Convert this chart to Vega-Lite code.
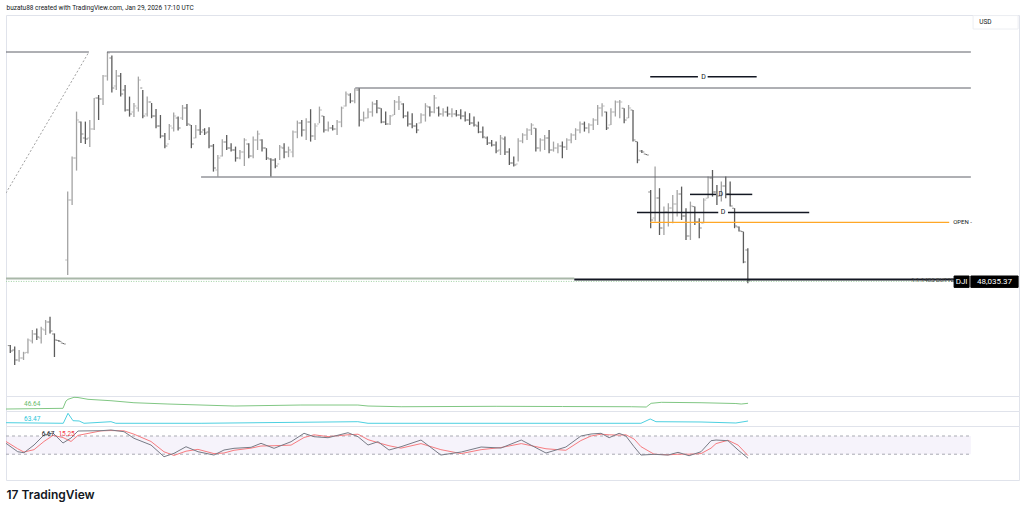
{
  "$schema": "https://vega.github.io/schema/vega-lite/v6.json",
  "background": "white",
  "padding": {"left": 5, "right": 6, "top": 3, "bottom": 5},
  "spacing": 0,
  "bounds": "flush",
  "config": {"view": {"stroke": "#e0e3eb"}, "font": "Roboto"},
  "datasets": {
    "bars": [
      {"i":0,"o":47712,"h":47715,"l":47675,"c":47685},{"i":1,"o":47690,"h":47707,"l":47615,"c":47640},{"i":2,"o":47640,"h":47690,"l":47631,"c":47650},{"i":3,"o":47650,"h":47681,"l":47640,"c":47675},{"i":4,"o":47678,"h":47748,"l":47673,"c":47740},{"i":5,"o":47735,"h":47790,"l":47723,"c":47770},{"i":6,"o":47770,"h":47798,"l":47740,"c":47755},{"i":7,"o":47750,"h":47806,"l":47723,"c":47795},{"i":8,"o":47790,"h":47840,"l":47765,"c":47830},{"i":9,"o":47830,"h":47856,"l":47773,"c":47785},{"i":10,"o":47770,"h":47773,"l":47655,"c":47740},{"i":11,"o":47738,"h":47740,"l":47731,"c":47733},{"i":12,"o":47725,"h":47725,"l":47720,"c":47720},
      {"i":13,"o":48140,"h":48482,"l":48065,"c":48440},{"i":14,"o":48440,"h":48657,"l":48415,"c":48650},{"i":15,"o":48650,"h":48882,"l":48587,"c":48840},{"i":16,"o":48830,"h":48832,"l":48725,"c":48770},{"i":17,"o":48750,"h":48832,"l":48720,"c":48745},{"i":18,"o":48750,"h":48840,"l":48705,"c":48795},{"i":19,"o":48795,"h":48950,"l":48790,"c":48950},{"i":20,"o":48950,"h":48965,"l":48840,"c":48945},{"i":21,"o":48945,"h":49065,"l":48915,"c":49060},{"i":22,"o":49060,"h":49180,"l":49037,"c":49175},
      {"i":23,"o":49150,"h":49162,"l":48977,"c":49000},{"i":24,"o":49010,"h":49090,"l":48990,"c":49060},{"i":25,"o":49060,"h":49075,"l":48957,"c":48970},{"i":26,"o":48990,"h":49015,"l":48882,"c":48890},{"i":27,"o":48890,"h":48957,"l":48857,"c":48870},{"i":28,"o":48880,"h":48925,"l":48855,"c":48910},{"i":29,"o":48900,"h":49057,"l":48882,"c":49040},{"i":30,"o":49000,"h":48990,"l":48849,"c":48860},{"i":31,"o":48870,"h":48957,"l":48857,"c":48930},{"i":32,"o":48930,"h":48925,"l":48849,"c":48860},
      {"i":33,"o":48860,"h":48895,"l":48799,"c":48810},{"i":34,"o":48810,"h":48865,"l":48749,"c":48760},{"i":35,"o":48760,"h":48775,"l":48699,"c":48710},{"i":36,"o":48720,"h":48820,"l":48740,"c":48810},{"i":37,"o":48800,"h":48877,"l":48782,"c":48860},{"i":38,"o":48850,"h":48857,"l":48787,"c":48800},{"i":39,"o":48850,"h":48915,"l":48840,"c":48900},{"i":40,"o":48900,"h":48920,"l":48810,"c":48820},{"i":41,"o":48815,"h":48815,"l":48699,"c":48720},{"i":42,"o":48750,"h":48815,"l":48749,"c":48790},
      {"i":43,"o":48790,"h":48894,"l":48765,"c":48780},{"i":44,"o":48790,"h":48799,"l":48765,"c":48775},{"i":45,"o":48780,"h":48804,"l":48699,"c":48710},{"i":46,"o":48710,"h":48720,"l":48582,"c":48600},{"i":47,"o":48590,"h":48665,"l":48557,"c":48650},{"i":48,"o":48660,"h":48744,"l":48657,"c":48730},{"i":49,"o":48730,"h":48765,"l":48690,"c":48700},{"i":50,"o":48700,"h":48724,"l":48682,"c":48690},{"i":51,"o":48690,"h":48707,"l":48632,"c":48650},{"i":52,"o":48650,"h":48690,"l":48644,"c":48680},
      {"i":53,"o":48680,"h":48749,"l":48610,"c":48740},{"i":54,"o":48720,"h":48724,"l":48649,"c":48660},{"i":55,"o":48660,"h":48757,"l":48649,"c":48740},{"i":56,"o":48740,"h":48787,"l":48690,"c":48770},{"i":57,"o":48740,"h":48744,"l":48682,"c":48700},{"i":58,"o":48700,"h":48699,"l":48640,"c":48650},{"i":59,"o":48645,"h":48649,"l":48557,"c":48640},{"i":60,"o":48640,"h":48649,"l":48599,"c":48610},{"i":61,"o":48620,"h":48715,"l":48640,"c":48705},{"i":62,"o":48700,"h":48724,"l":48649,"c":48680},
      {"i":63,"o":48680,"h":48707,"l":48654,"c":48690},{"i":64,"o":48680,"h":48787,"l":48654,"c":48780},{"i":65,"o":48780,"h":48837,"l":48749,"c":48825},{"i":66,"o":48825,"h":48840,"l":48757,"c":48790},{"i":67,"o":48790,"h":48849,"l":48740,"c":48830},{"i":68,"o":48830,"h":48894,"l":48732,"c":48760},{"i":69,"o":48760,"h":48824,"l":48740,"c":48810},{"i":70,"o":48820,"h":48907,"l":48824,"c":48890},{"i":71,"o":48860,"h":48860,"l":48777,"c":48790},{"i":72,"o":48790,"h":48832,"l":48782,"c":48800},
      {"i":73,"o":48800,"h":48815,"l":48787,"c":48795},{"i":74,"o":48795,"h":48840,"l":48765,"c":48830},{"i":75,"o":48830,"h":48907,"l":48804,"c":48900},{"i":76,"o":48910,"h":48982,"l":48907,"c":48970},{"i":77,"o":48965,"h":48974,"l":48924,"c":48935},{"i":78,"o":48935,"h":48999,"l":48924,"c":48990},{"i":79,"o":48990,"h":48999,"l":48807,"c":48840},{"i":80,"o":48840,"h":48882,"l":48832,"c":48850},{"i":81,"o":48850,"h":48899,"l":48849,"c":48880},{"i":82,"o":48880,"h":48932,"l":48857,"c":48920},
      {"i":83,"o":48920,"h":48940,"l":48874,"c":48900},{"i":84,"o":48899,"h":48899,"l":48824,"c":48830},{"i":85,"o":48830,"h":48882,"l":48815,"c":48820},{"i":86,"o":48820,"h":48865,"l":48815,"c":48860},{"i":87,"o":48865,"h":48940,"l":48865,"c":48930},{"i":88,"o":48930,"h":48960,"l":48890,"c":48930},{"i":89,"o":48920,"h":48924,"l":48849,"c":48860},{"i":90,"o":48860,"h":48882,"l":48807,"c":48820},{"i":91,"o":48820,"h":48874,"l":48799,"c":48810},{"i":92,"o":48810,"h":48824,"l":48774,"c":48790},
      {"i":93,"o":48825,"h":48874,"l":48824,"c":48865},{"i":94,"o":48865,"h":48924,"l":48832,"c":48910},{"i":95,"o":48905,"h":48907,"l":48857,"c":48880},{"i":96,"o":48880,"h":48965,"l":48874,"c":48950},{"i":97,"o":48900,"h":48907,"l":48857,"c":48870},{"i":98,"o":48870,"h":48899,"l":48857,"c":48880},{"i":99,"o":48880,"h":48907,"l":48857,"c":48870},{"i":100,"o":48870,"h":48899,"l":48854,"c":48870},{"i":101,"o":48870,"h":48890,"l":48857,"c":48865},{"i":102,"o":48865,"h":48894,"l":48844,"c":48860},
      {"i":103,"o":48860,"h":48882,"l":48832,"c":48840},{"i":104,"o":48840,"h":48874,"l":48815,"c":48825},{"i":105,"o":48825,"h":48857,"l":48807,"c":48815},{"i":106,"o":48810,"h":48832,"l":48774,"c":48780},{"i":107,"o":48780,"h":48807,"l":48749,"c":48755},{"i":108,"o":48750,"h":48757,"l":48715,"c":48725},{"i":109,"o":48725,"h":48740,"l":48707,"c":48715},{"i":110,"o":48715,"h":48732,"l":48674,"c":48685},{"i":111,"o":48690,"h":48765,"l":48665,"c":48750},{"i":112,"o":48745,"h":48757,"l":48665,"c":48680},
      {"i":113,"o":48680,"h":48699,"l":48615,"c":48625},{"i":114,"o":48625,"h":48657,"l":48607,"c":48615},{"i":115,"o":48620,"h":48749,"l":48632,"c":48735},{"i":116,"o":48735,"h":48774,"l":48724,"c":48765},{"i":117,"o":48765,"h":48799,"l":48740,"c":48790},{"i":118,"o":48790,"h":48824,"l":48765,"c":48815},{"i":119,"o":48799,"h":48799,"l":48682,"c":48700},{"i":120,"o":48700,"h":48749,"l":48682,"c":48740},{"i":121,"o":48740,"h":48765,"l":48690,"c":48750},{"i":122,"o":48750,"h":48790,"l":48674,"c":48690},
      {"i":123,"o":48690,"h":48732,"l":48682,"c":48700},{"i":124,"o":48700,"h":48724,"l":48674,"c":48710},{"i":125,"o":48710,"h":48732,"l":48649,"c":48705},{"i":126,"o":48705,"h":48749,"l":48690,"c":48740},{"i":127,"o":48740,"h":48774,"l":48724,"c":48765},{"i":128,"o":48765,"h":48799,"l":48740,"c":48790},{"i":129,"o":48790,"h":48832,"l":48774,"c":48820},{"i":130,"o":48820,"h":48832,"l":48782,"c":48800},{"i":131,"o":48800,"h":48824,"l":48774,"c":48815},{"i":132,"o":48815,"h":48849,"l":48790,"c":48840},
      {"i":133,"o":48840,"h":48915,"l":48815,"c":48900},{"i":134,"o":48900,"h":48924,"l":48857,"c":48910},{"i":135,"o":48880,"h":48882,"l":48790,"c":48800},{"i":136,"o":48815,"h":48899,"l":48815,"c":48880},{"i":137,"o":48880,"h":48937,"l":48857,"c":48930},{"i":138,"o":48930,"h":48940,"l":48849,"c":48930},{"i":139,"o":48899,"h":48899,"l":48824,"c":48840},{"i":140,"o":48850,"h":48915,"l":48849,"c":48900},{"i":141,"o":48890,"h":48890,"l":48732,"c":48740},{"i":142,"o":48732,"h":48732,"l":48624,"c":48640},
      {"i":143,"o":48685,"h":48690,"l":48675,"c":48680},{"i":144,"o":48670,"h":48670,"l":48665,"c":48665},{"i":145,"o":48480,"h":48490,"l":48299,"c":48340},{"i":146,"o":48350,"h":48607,"l":48332,"c":48450},{"i":147,"o":48450,"h":48499,"l":48265,"c":48300},{"i":148,"o":48300,"h":48407,"l":48265,"c":48380},{"i":149,"o":48380,"h":48424,"l":48307,"c":48400},{"i":150,"o":48400,"h":48465,"l":48324,"c":48420},{"i":151,"o":48420,"h":48490,"l":48357,"c":48470},{"i":152,"o":48470,"h":48507,"l":48340,"c":48360},
      {"i":153,"o":48360,"h":48399,"l":48240,"c":48260},{"i":154,"o":48260,"h":48432,"l":48240,"c":48410},{"i":155,"o":48407,"h":48407,"l":48315,"c":48330},{"i":156,"o":48330,"h":48349,"l":48249,"c":48300},{"i":157,"o":48324,"h":48449,"l":48324,"c":48440},{"i":158,"o":48449,"h":48557,"l":48449,"c":48550},{"i":159,"o":48550,"h":48590,"l":48457,"c":48480},{"i":160,"o":48480,"h":48515,"l":48415,"c":48460},{"i":161,"o":48460,"h":48532,"l":48432,"c":48510},{"i":162,"o":48510,"h":48557,"l":48449,"c":48470},
      {"i":163,"o":48470,"h":48532,"l":48407,"c":48410},{"i":164,"o":48399,"h":48399,"l":48299,"c":48310},{"i":165,"o":48305,"h":48307,"l":48282,"c":48285},{"i":166,"o":48282,"h":48282,"l":48124,"c":48130},{"i":167,"o":48190,"h":48199,"l":48024,"c":48035.37}
    ],
    "levels": [
      {"kind":"level","i":-1,"i2":17.8,"p":49180},
      {"kind":"level","i":21.9,"i2":217.5,"p":49180},
      {"kind":"level","i":78.1,"i2":217.5,"p":49000},
      {"kind":"level","i":43.2,"i2":217.5,"p":48555},
      {"kind":"open","i":144.9,"i2":212.6,"p":48328},
      {"kind":"d","i":144.9,"i2":155.7,"p":49056},
      {"kind":"d","i":157.9,"i2":169.0,"p":49056},
      {"kind":"d","i":153.9,"i2":159.8,"p":48468},
      {"kind":"d","i":162.1,"i2":168.0,"p":48468},
      {"kind":"d","i":141.9,"i2":160.3,"p":48378},
      {"kind":"d","i":162.5,"i2":180.9,"p":48378},
      {"kind":"base","i":-1,"i2":127.7,"p":48047},
      {"kind":"fib","i":127.7,"i2":214.2,"p":48043},
      {"kind":"dots","i":-1,"i2":214.2,"p":48033}
    ],
    "diag": [{"i":17.8,"p":49180},{"i":-1,"p":48474}],
    "labels": [
      {"kind":"d","i":157.0,"p":49056,"text":"D"},
      {"kind":"d","i":160.9,"p":48468,"text":"D"},
      {"kind":"d","i":161.4,"p":48378,"text":"D"},
      {"kind":"open","i":213.5,"p":48328,"text":"OPEN -"},
      {"kind":"fib","i":204.0,"p":48040,"text":"1:1.1485 BUTTE"}
    ],
    "boxes": [
      {"kind":"sym","i":213.7,"i2":217.1,"p":48060,"p2":48003},
      {"kind":"price","i":217.5,"i2":228.2,"p":48060,"p2":48003},
      {"kind":"unit","i":218.0,"i2":228.2,"p":49362,"p2":49295}
    ],
    "boxtext": [
      {"kind":"sym","i":215.4,"p":48032,"text":"DJI"},
      {"kind":"price","i":222.85,"p":48032,"text":"48,035.37"},
      {"kind":"unit","i":219.4,"p":49328,"text":"USD"}
    ],
    "green": [
      {"i":-0.97,"v":35.2},{"i":11.93,"v":36.6},{"i":12.61,"v":51.2},{"i":13.07,"v":54.6},{"i":14.42,"v":58.6},{"i":15.33,"v":58.2},{"i":17.6,"v":54.6},{"i":22.8,"v":51.8},{"i":28.0,"v":47.8},{"i":35.7,"v":45.2},{"i":50.7,"v":41.2},{"i":65.8,"v":43.2},{"i":78.7,"v":43.2},{"i":81.0,"v":41.2},{"i":88.5,"v":39.8},{"i":110,"v":40.6},{"i":125,"v":40.2},{"i":140.6,"v":39.8},{"i":144.0,"v":39.2},{"i":145.1,"v":46.6},{"i":147.4,"v":48.6},{"i":156.4,"v":47.8},{"i":164.3,"v":46.2},{"i":165.5,"v":45.2},{"i":167.05,"v":46.64}
    ],
    "cyan": [
      {"i":-0.97,"v":58.4},{"i":12.0,"v":56.6},{"i":13.07,"v":86.6},{"i":14.2,"v":64.4},{"i":15.6,"v":63.5},{"i":16.7,"v":56.6},{"i":22.8,"v":61.4},{"i":23.9,"v":56.6},{"i":43.2,"v":56.6},{"i":78.7,"v":61.4},{"i":81.0,"v":56.6},{"i":142.8,"v":56.6},{"i":144.9,"v":69.5},{"i":146.2,"v":61.4},{"i":156.4,"v":60.5},{"i":164.3,"v":57.5},{"i":167.05,"v":63.47}
    ],
    "stochk": [
      {"i":-0.97,"v":55.9},{"i":1.68,"v":28.2},{"i":3.1,"v":24.9},{"i":5.37,"v":50.3},{"i":7.63,"v":83.3},{"i":9.67,"v":89.9},{"i":11.93,"v":56.9},{"i":13.75,"v":73.4},{"i":15.33,"v":96.5},{"i":20.54,"v":97.5},{"i":22.8,"v":99.8},{"i":25.75,"v":94.2},{"i":28.01,"v":72.4},{"i":31.86,"v":50.3},{"i":34.81,"v":11.7},{"i":37.07,"v":22.9},{"i":39.79,"v":44.7},{"i":42.5,"v":28.2},{"i":46.13,"v":17.3},{"i":48.39,"v":33.8},{"i":50.66,"v":39.4},{"i":54.51,"v":42.7},{"i":56.77,"v":55.9},{"i":59.72,"v":39.4},{"i":63.57,"v":61.2},{"i":66.51,"v":88.9},{"i":68.78,"v":77.7},{"i":71.95,"v":74.4},{"i":76.47,"v":90.9},{"i":78.74,"v":77.7},{"i":81.0,"v":50.3},{"i":83.26,"v":61.2},{"i":85.75,"v":33.8},{"i":88.47,"v":44.7},{"i":93.0,"v":66.8},{"i":97.5,"v":17.3},{"i":102.1,"v":27.2},{"i":106.6,"v":43.7},{"i":111.1,"v":40.4},{"i":115.7,"v":66.8},{"i":121.3,"v":23.9},{"i":125.8,"v":43.7},{"i":129.2,"v":80},{"i":131.5,"v":86.6},{"i":133.76,"v":88.9},{"i":135.6,"v":74.4},{"i":137.85,"v":88.9},{"i":139.4,"v":80},{"i":141.24,"v":44.7},{"i":142.8,"v":17.3},{"i":145.77,"v":19.6},{"i":148.94,"v":17.3},{"i":151.2,"v":26.2},{"i":153.7,"v":15.0},{"i":156.4,"v":28.2},{"i":158.67,"v":64.5},{"i":159.8,"v":66.8},{"i":162.5,"v":64.5},{"i":164.8,"v":33.8},{"i":167.05,"v":6.67}
    ],
    "stochd": [
      {"i":-0.97,"v":62},{"i":1.68,"v":38},{"i":3.1,"v":27},{"i":5.37,"v":35},{"i":7.63,"v":62},{"i":9.67,"v":82},{"i":11.93,"v":75},{"i":13.75,"v":62},{"i":15.33,"v":82},{"i":20.54,"v":97},{"i":22.8,"v":98},{"i":25.75,"v":97},{"i":28.01,"v":86},{"i":31.86,"v":62},{"i":34.81,"v":28},{"i":37.07,"v":16},{"i":39.79,"v":30},{"i":42.5,"v":36},{"i":46.13,"v":22},{"i":48.39,"v":24},{"i":50.66,"v":33},{"i":54.51,"v":40},{"i":56.77,"v":47},{"i":59.72,"v":48},{"i":63.57,"v":50},{"i":66.51,"v":75},{"i":68.78,"v":84},{"i":71.95,"v":78},{"i":76.47,"v":84},{"i":78.74,"v":86},{"i":81.0,"v":68},{"i":83.26,"v":58},{"i":85.75,"v":48},{"i":88.47,"v":40},{"i":93.0,"v":55},{"i":97.5,"v":35},{"i":102.1,"v":22},{"i":106.6,"v":35},{"i":111.1,"v":42},{"i":115.7,"v":55},{"i":121.3,"v":38},{"i":125.8,"v":33},{"i":129.2,"v":65},{"i":131.5,"v":80},{"i":133.76,"v":86},{"i":135.6,"v":84},{"i":137.85,"v":83},{"i":139.4,"v":84},{"i":141.24,"v":70},{"i":142.8,"v":45},{"i":145.77,"v":20},{"i":148.94,"v":18},{"i":151.2,"v":20},{"i":153.7,"v":20},{"i":156.4,"v":22},{"i":158.67,"v":40},{"i":159.8,"v":55},{"i":162.5,"v":66},{"i":164.8,"v":50},{"i":167.05,"v":15.25}
    ],
    "band": [{"i":-0.97,"i2":217.5,"v":20,"v2":80}],
    "bandlines": [{"i":-0.97,"i2":217.5,"v":80},{"i":-0.97,"i2":217.5,"v":20}],
    "paneLabels": [
      {"pane":"green","i":3.1,"v":45.2,"text":"46.64"},
      {"pane":"cyan","i":3.1,"v":68.5,"text":"63.47"},
      {"pane":"k","i":7.1,"v":87.6,"text":"6.67"},
      {"pane":"d","i":10.9,"v":87.6,"text":"15.25"}
    ]
  },
  "vconcat": [
    {
      "width": 1013,
      "height": 381,
      "encoding": {
        "x": {"field": "i", "type": "quantitative",
              "scale": {"domain": [-0.97, 228.4], "nice": false, "zero": false},
              "axis": {"orient": "top", "title": "buzatu88 created with TradingView.com, Jan 29, 2026 17:10 UTC",
                       "labels": false, "ticks": false, "domain": false, "grid": false,
                       "titleFontSize": 6.5, "titleFontWeight": "normal", "titleColor": "#131722",
                       "titleAnchor": "start", "titlePadding": 5, "titleFont": "Roboto"}}
      },
      "layer": [
        {
          "data": {"name": "bars"},
          "mark": {"type": "rule", "strokeWidth": 1.3, "clip": true},
          "encoding": {
            "y": {"field": "l", "type": "quantitative", "scale": {"domain": [47460, 49365], "nice": false, "zero": false}, "axis": null},
            "y2": {"field": "h"},
            "color": {"condition": {"test": "datum.c >= datum.o", "value": "#a3a3a3"}, "value": "#5c5c5c"}
          }
        },
        {
          "data": {"name": "bars"},
          "mark": {"type": "tick", "orient": "horizontal", "size": 2, "thickness": 1, "xOffset": -1.5, "clip": true},
          "encoding": {
            "y": {"field": "o", "type": "quantitative", "axis": null},
            "color": {"condition": {"test": "datum.c >= datum.o", "value": "#a3a3a3"}, "value": "#5c5c5c"}
          }
        },
        {
          "data": {"name": "bars"},
          "mark": {"type": "tick", "orient": "horizontal", "size": 2, "thickness": 1, "xOffset": 1.5, "clip": true},
          "encoding": {
            "y": {"field": "c", "type": "quantitative", "axis": null},
            "color": {"condition": {"test": "datum.c >= datum.o", "value": "#a3a3a3"}, "value": "#5c5c5c"}
          }
        },
        {
          "data": {"name": "levels"},
          "transform": [{"filter": "datum.kind === 'level'"}],
          "mark": {"type": "rule", "strokeWidth": 1, "color": "#5f6169", "clip": true},
          "encoding": {
            "x2": {"field": "i2"},
            "y": {"field": "p", "type": "quantitative", "axis": null}
          }
        },
        {
          "data": {"name": "levels"},
          "transform": [{"filter": "datum.kind === 'open'"}],
          "mark": {"type": "rule", "strokeWidth": 1.2, "color": "#ffa726", "clip": true},
          "encoding": {
            "x2": {"field": "i2"},
            "y": {"field": "p", "type": "quantitative", "axis": null}
          }
        },
        {
          "data": {"name": "levels"},
          "transform": [{"filter": "datum.kind === 'd'"}],
          "mark": {"type": "rule", "strokeWidth": 1.5, "color": "#131722", "clip": true},
          "encoding": {
            "x2": {"field": "i2"},
            "y": {"field": "p", "type": "quantitative", "axis": null}
          }
        },
        {
          "data": {"name": "levels"},
          "transform": [{"filter": "datum.kind === 'base'"}],
          "mark": {"type": "rule", "strokeWidth": 2, "color": "#a9b8a9", "clip": true},
          "encoding": {
            "x2": {"field": "i2"},
            "y": {"field": "p", "type": "quantitative", "axis": null}
          }
        },
        {
          "data": {"name": "levels"},
          "transform": [{"filter": "datum.kind === 'dots'"}],
          "mark": {"type": "rule", "strokeWidth": 1, "color": "#9ccf9f", "strokeDash": [1, 1.5], "clip": true},
          "encoding": {
            "x2": {"field": "i2"},
            "y": {"field": "p", "type": "quantitative", "axis": null}
          }
        },
        {
          "data": {"name": "levels"},
          "transform": [{"filter": "datum.kind === 'fib'"}],
          "mark": {"type": "rule", "strokeWidth": 2, "color": "#131722", "clip": true},
          "encoding": {
            "x2": {"field": "i2"},
            "y": {"field": "p", "type": "quantitative", "axis": null}
          }
        },
        {
          "data": {"name": "diag"},
          "mark": {"type": "line", "strokeWidth": 1, "color": "#a0a0a0", "strokeDash": [2, 2], "clip": true},
          "encoding": {
            "y": {"field": "p", "type": "quantitative", "axis": null}
          }
        },
        {
          "data": {"name": "labels"},
          "transform": [{"filter": "datum.kind === 'd'"}],
          "mark": {"type": "text", "fontSize": 7, "color": "#131722", "align": "center", "baseline": "middle"},
          "encoding": {
            "y": {"field": "p", "type": "quantitative", "axis": null},
            "text": {"field": "text"}
          }
        },
        {
          "data": {"name": "labels"},
          "transform": [{"filter": "datum.kind === 'open'"}],
          "mark": {"type": "text", "fontSize": 6, "color": "#131722", "align": "left", "baseline": "middle"},
          "encoding": {
            "y": {"field": "p", "type": "quantitative", "axis": null},
            "text": {"field": "text"}
          }
        },
        {
          "data": {"name": "labels"},
          "transform": [{"filter": "datum.kind === 'fib'"}],
          "mark": {"type": "text", "fontSize": 6, "color": "#4a4a4a", "align": "left", "baseline": "middle"},
          "encoding": {
            "y": {"field": "p", "type": "quantitative", "axis": null},
            "text": {"field": "text"}
          }
        },
        {
          "data": {"name": "boxes"},
          "mark": {"type": "rect", "strokeWidth": 1},
          "encoding": {
            "x2": {"field": "i2"},
            "y": {"field": "p", "type": "quantitative", "axis": null},
            "y2": {"field": "p2"},
            "fill": {"field": "kind", "type": "nominal", "scale": {"domain": ["sym", "price", "unit"], "range": ["#000000", "#000000", "#ffffff"]}, "legend": null},
            "stroke": {"field": "kind", "type": "nominal", "scale": {"domain": ["sym", "price", "unit"], "range": ["#000000", "#000000", "#eceef2"]}, "legend": null}
          }
        },
        {
          "data": {"name": "boxtext"},
          "transform": [{"filter": "datum.kind !== 'unit'"}],
          "mark": {"type": "text", "fontSize": 8, "color": "#ffffff", "align": "center", "baseline": "middle"},
          "encoding": {
            "y": {"field": "p", "type": "quantitative", "axis": null},
            "text": {"field": "text"}
          }
        },
        {
          "data": {"name": "boxtext"},
          "transform": [{"filter": "datum.kind === 'unit'"}],
          "mark": {"type": "text", "fontSize": 6.5, "color": "#131722", "align": "left", "baseline": "middle"},
          "encoding": {
            "y": {"field": "p", "type": "quantitative", "axis": null},
            "text": {"field": "text"}
          }
        }
      ]
    },
    {
      "width": 1013,
      "height": 15,
      "encoding": {
        "x": {"field": "i", "type": "quantitative", "scale": {"domain": [-0.97, 228.4], "nice": false, "zero": false}, "axis": null}
      },
      "layer": [
        {
          "data": {"name": "green"},
          "mark": {"type": "line", "strokeWidth": 1, "color": "#81c784", "clip": true},
          "encoding": {"y": {"field": "v", "type": "quantitative", "scale": {"domain": [31.24, 61.24], "nice": false, "zero": false}, "axis": null}}
        },
        {
          "data": {"name": "paneLabels"},
          "transform": [{"filter": "datum.pane === 'green'"}],
          "mark": {"type": "text", "fontSize": 6.5, "color": "#66bb6a", "align": "left", "baseline": "middle"},
          "encoding": {"y": {"field": "v", "type": "quantitative", "axis": null}, "text": {"field": "text"}}
        }
      ]
    },
    {
      "width": 1013,
      "height": 15,
      "encoding": {
        "x": {"field": "i", "type": "quantitative", "scale": {"domain": [-0.97, 228.4], "nice": false, "zero": false}, "axis": null}
      },
      "layer": [
        {
          "data": {"name": "cyan"},
          "mark": {"type": "line", "strokeWidth": 1, "color": "#4dd0e1", "clip": true},
          "encoding": {"y": {"field": "v", "type": "quantitative", "scale": {"domain": [48.47, 93.47], "nice": false, "zero": false}, "axis": null}}
        },
        {
          "data": {"name": "paneLabels"},
          "transform": [{"filter": "datum.pane === 'cyan'"}],
          "mark": {"type": "text", "fontSize": 6.5, "color": "#26c6da", "align": "left", "baseline": "middle"},
          "encoding": {"y": {"field": "v", "type": "quantitative", "axis": null}, "text": {"field": "text"}}
        }
      ]
    },
    {
      "width": 1013,
      "height": 54,
      "encoding": {
        "x": {"field": "i", "type": "quantitative", "scale": {"domain": [-0.97, 228.4], "nice": false, "zero": false},
              "axis": {"orient": "bottom", "title": "17 TradingView", "labels": false, "ticks": false, "domain": false, "grid": false,
                       "titleFontSize": 12, "titleFontWeight": 600, "titleColor": "#131722", "titleAnchor": "start", "titlePadding": 9, "titleFont": "Inter"}}
      },
      "layer": [
        {
          "data": {"name": "band"},
          "mark": {"type": "rect", "color": "#7e57c2", "opacity": 0.07},
          "encoding": {
            "x2": {"field": "i2"},
            "y": {"field": "v", "type": "quantitative", "scale": {"domain": [-65, 113], "nice": false, "zero": false}, "axis": null},
            "y2": {"field": "v2"}
          }
        },
        {
          "data": {"name": "bandlines"},
          "mark": {"type": "rule", "strokeWidth": 1, "color": "#a9abb3", "strokeDash": [3, 3]},
          "encoding": {
            "x2": {"field": "i2"},
            "y": {"field": "v", "type": "quantitative", "axis": null}
          }
        },
        {
          "data": {"name": "stochd"},
          "mark": {"type": "line", "strokeWidth": 1, "color": "#f77c80", "clip": true},
          "encoding": {"y": {"field": "v", "type": "quantitative", "axis": null}}
        },
        {
          "data": {"name": "stochk"},
          "mark": {"type": "line", "strokeWidth": 1, "color": "#787b86", "clip": true},
          "encoding": {"y": {"field": "v", "type": "quantitative", "axis": null}}
        },
        {
          "data": {"name": "paneLabels"},
          "transform": [{"filter": "datum.pane === 'k'"}],
          "mark": {"type": "text", "fontSize": 6.5, "color": "#131722", "align": "left", "baseline": "middle"},
          "encoding": {"y": {"field": "v", "type": "quantitative", "axis": null}, "text": {"field": "text"}}
        },
        {
          "data": {"name": "paneLabels"},
          "transform": [{"filter": "datum.pane === 'd'"}],
          "mark": {"type": "text", "fontSize": 6.5, "color": "#f23645", "align": "left", "baseline": "middle"},
          "encoding": {"y": {"field": "v", "type": "quantitative", "axis": null}, "text": {"field": "text"}}
        }
      ]
    }
  ]
}
